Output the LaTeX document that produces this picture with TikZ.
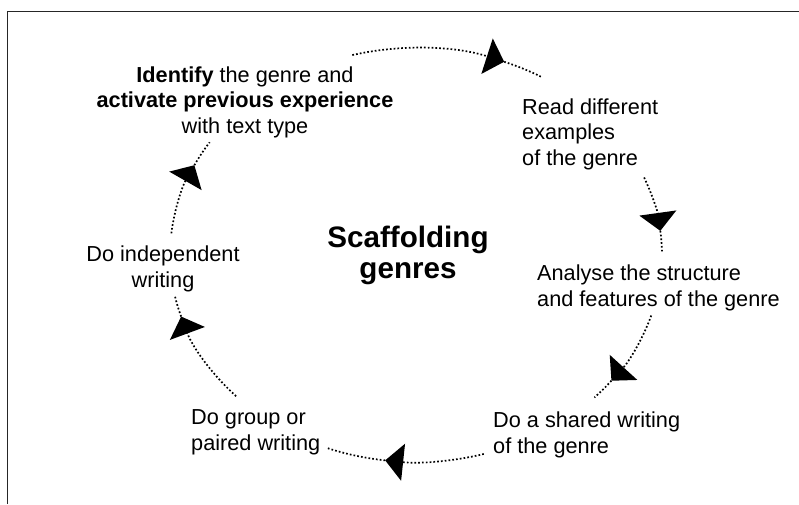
\documentclass[tikz,border=0pt]{standalone}
\usepackage{fontspec}
\setmainfont{Liberation Sans}
\usetikzlibrary{arrows.meta}
\begin{document}
\begin{tikzpicture}[x=1pt,y=1pt,
  lbl/.style={inner sep=0pt, font=\fontsize{21.7}{25.5}\selectfont},
  ttl/.style={inner sep=0pt, font=\fontsize{29.6}{30.5}\selectfont\bfseries, align=center},
  dotline/.style={line width=1.7pt, dash pattern=on 1.7pt off 2.1pt, black},
  headarc/.style={dotline, -{Triangle[length=18pt,width=37pt]}},
  frame/.style={line width=1.6pt, black!85}]
\useasboundingbox (0,0) rectangle (799,-504);
\draw[frame] (7.5,-504) -- (7.5,-11.5) -- (799,-11.5);
\coordinate (c) at (416,-255);
% texts (base anchor = baseline of the last line)
\node[lbl, align=center, anchor=base] (id) at (245,-133)
  {\textbf{Identify} the genre and\\\textbf{activate previous experience}\\with text type};
\node[lbl, align=left, anchor=base west] (rd) at (522,-165) {Read different\\examples\\of the genre};
\node[lbl, align=left, anchor=base west] (an) at (537,-306) {Analyse the structure\\and features of the genre};
\node[lbl, align=left, anchor=base west] (sh) at (493,-453) {Do a shared writing\\of the genre};
\node[lbl, align=left, anchor=base west] (gr) at (191,-450) {Do group or\\paired writing};
\node[lbl, align=center, anchor=base] (in) at (163,-287) {Do independent\\writing};
\node[ttl, anchor=base] (t) at (408,-278) {Scaffolding\\genres};
% cycle arcs
\foreach \a/\b/\e in {105/69/59.5, 22/6.7/1, -17/-37.4/-43.5, -74/-97.2/-111, -137/-162.7/-168.5, 174/154.3/147}{
  \draw[headarc] ([shift={(\a:246 and 207)}]c) arc[start angle=\a, end angle=\b, x radius=246, y radius=207];
  \draw[dotline] ([shift={(\b:246 and 207)}]c) arc[start angle=\b, end angle=\e, x radius=246, y radius=207];
}
\end{tikzpicture}
\end{document}
